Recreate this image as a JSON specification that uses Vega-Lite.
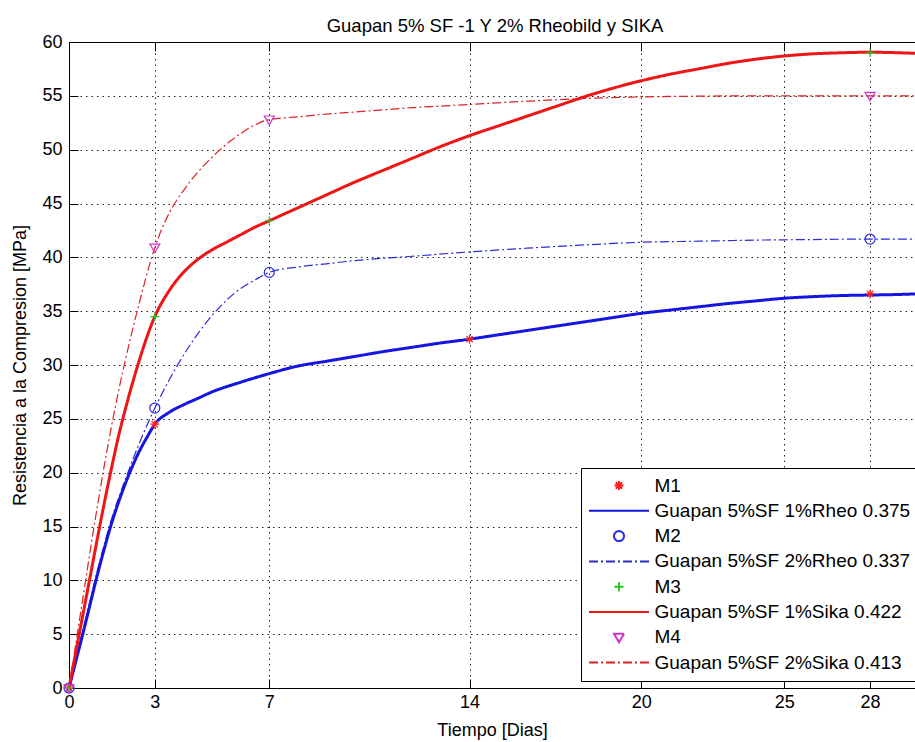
{
  "$schema": "https://vega.github.io/schema/vega-lite/v6.json",
  "width": 846,
  "height": 646,
  "autosize": {"type": "none"},
  "padding": {"left": 69, "top": 42, "right": 0, "bottom": 54},
  "background": "white",
  "title": {"text": "Guapan 5% SF -1 Y 2% Rheobild y SIKA", "fontSize": 18.5, "fontWeight": "normal", "color": "#000", "font": "Liberation Sans", "offset": -2, "dx": 3},
  "config": {
    "font": "Liberation Sans",
    "view": {"stroke": null},
    "axis": {"domainColor": "#000", "tickColor": "#000", "labelColor": "#000", "titleColor": "#000", "labelFontSize": 18, "titleFontSize": 18, "titleFontWeight": "normal", "tickSize": -9, "grid": false, "labelFont": "Liberation Sans", "titleFont": "Liberation Sans", "gridColor": "#222", "gridDash": [1.5, 4], "gridOpacity": 1}
  },
  "datasets": {
    "solid": [
      {"s": "Guapan 5%SF 1%Rheo 0.375", "d": 0, "v": 0},
      {"s": "Guapan 5%SF 1%Rheo 0.375", "d": 0.25, "v": 2.6},
      {"s": "Guapan 5%SF 1%Rheo 0.375", "d": 0.5, "v": 5.2},
      {"s": "Guapan 5%SF 1%Rheo 0.375", "d": 0.75, "v": 7.9},
      {"s": "Guapan 5%SF 1%Rheo 0.375", "d": 1, "v": 10.6},
      {"s": "Guapan 5%SF 1%Rheo 0.375", "d": 1.25, "v": 13.1},
      {"s": "Guapan 5%SF 1%Rheo 0.375", "d": 1.5, "v": 15.4},
      {"s": "Guapan 5%SF 1%Rheo 0.375", "d": 1.75, "v": 17.4},
      {"s": "Guapan 5%SF 1%Rheo 0.375", "d": 2, "v": 19.2},
      {"s": "Guapan 5%SF 1%Rheo 0.375", "d": 2.25, "v": 20.8},
      {"s": "Guapan 5%SF 1%Rheo 0.375", "d": 2.5, "v": 22.2},
      {"s": "Guapan 5%SF 1%Rheo 0.375", "d": 2.75, "v": 23.4},
      {"s": "Guapan 5%SF 1%Rheo 0.375", "d": 3, "v": 24.5},
      {"s": "Guapan 5%SF 1%Rheo 0.375", "d": 3.5, "v": 25.6},
      {"s": "Guapan 5%SF 1%Rheo 0.375", "d": 4, "v": 26.3},
      {"s": "Guapan 5%SF 1%Rheo 0.375", "d": 4.5, "v": 26.9},
      {"s": "Guapan 5%SF 1%Rheo 0.375", "d": 5, "v": 27.5},
      {"s": "Guapan 5%SF 1%Rheo 0.375", "d": 6, "v": 28.4},
      {"s": "Guapan 5%SF 1%Rheo 0.375", "d": 7, "v": 29.2},
      {"s": "Guapan 5%SF 1%Rheo 0.375", "d": 8, "v": 29.9},
      {"s": "Guapan 5%SF 1%Rheo 0.375", "d": 9, "v": 30.35},
      {"s": "Guapan 5%SF 1%Rheo 0.375", "d": 10, "v": 30.8},
      {"s": "Guapan 5%SF 1%Rheo 0.375", "d": 11, "v": 31.25},
      {"s": "Guapan 5%SF 1%Rheo 0.375", "d": 12, "v": 31.65},
      {"s": "Guapan 5%SF 1%Rheo 0.375", "d": 13, "v": 32.05},
      {"s": "Guapan 5%SF 1%Rheo 0.375", "d": 14, "v": 32.4},
      {"s": "Guapan 5%SF 1%Rheo 0.375", "d": 15, "v": 32.8},
      {"s": "Guapan 5%SF 1%Rheo 0.375", "d": 16, "v": 33.2},
      {"s": "Guapan 5%SF 1%Rheo 0.375", "d": 17, "v": 33.6},
      {"s": "Guapan 5%SF 1%Rheo 0.375", "d": 18, "v": 34.0},
      {"s": "Guapan 5%SF 1%Rheo 0.375", "d": 19, "v": 34.4},
      {"s": "Guapan 5%SF 1%Rheo 0.375", "d": 20, "v": 34.8},
      {"s": "Guapan 5%SF 1%Rheo 0.375", "d": 21, "v": 35.1},
      {"s": "Guapan 5%SF 1%Rheo 0.375", "d": 22, "v": 35.4},
      {"s": "Guapan 5%SF 1%Rheo 0.375", "d": 23, "v": 35.7},
      {"s": "Guapan 5%SF 1%Rheo 0.375", "d": 24, "v": 35.95},
      {"s": "Guapan 5%SF 1%Rheo 0.375", "d": 25, "v": 36.2},
      {"s": "Guapan 5%SF 1%Rheo 0.375", "d": 26, "v": 36.35},
      {"s": "Guapan 5%SF 1%Rheo 0.375", "d": 27, "v": 36.45},
      {"s": "Guapan 5%SF 1%Rheo 0.375", "d": 28, "v": 36.5},
      {"s": "Guapan 5%SF 1%Rheo 0.375", "d": 29, "v": 36.55},
      {"s": "Guapan 5%SF 1%Rheo 0.375", "d": 29.57, "v": 36.6},
      {"s": "Guapan 5%SF 1%Sika 0.422", "d": 0, "v": 0},
      {"s": "Guapan 5%SF 1%Sika 0.422", "d": 0.25, "v": 3.5},
      {"s": "Guapan 5%SF 1%Sika 0.422", "d": 0.5, "v": 7.0},
      {"s": "Guapan 5%SF 1%Sika 0.422", "d": 0.75, "v": 10.5},
      {"s": "Guapan 5%SF 1%Sika 0.422", "d": 1, "v": 14.0},
      {"s": "Guapan 5%SF 1%Sika 0.422", "d": 1.25, "v": 17.4},
      {"s": "Guapan 5%SF 1%Sika 0.422", "d": 1.5, "v": 20.6},
      {"s": "Guapan 5%SF 1%Sika 0.422", "d": 1.75, "v": 23.6},
      {"s": "Guapan 5%SF 1%Sika 0.422", "d": 2, "v": 26.2},
      {"s": "Guapan 5%SF 1%Sika 0.422", "d": 2.25, "v": 28.6},
      {"s": "Guapan 5%SF 1%Sika 0.422", "d": 2.5, "v": 30.8},
      {"s": "Guapan 5%SF 1%Sika 0.422", "d": 2.75, "v": 32.8},
      {"s": "Guapan 5%SF 1%Sika 0.422", "d": 3, "v": 34.5},
      {"s": "Guapan 5%SF 1%Sika 0.422", "d": 3.5, "v": 36.9},
      {"s": "Guapan 5%SF 1%Sika 0.422", "d": 4, "v": 38.6},
      {"s": "Guapan 5%SF 1%Sika 0.422", "d": 4.5, "v": 39.8},
      {"s": "Guapan 5%SF 1%Sika 0.422", "d": 5, "v": 40.7},
      {"s": "Guapan 5%SF 1%Sika 0.422", "d": 5.5, "v": 41.4},
      {"s": "Guapan 5%SF 1%Sika 0.422", "d": 6, "v": 42.1},
      {"s": "Guapan 5%SF 1%Sika 0.422", "d": 6.5, "v": 42.8},
      {"s": "Guapan 5%SF 1%Sika 0.422", "d": 7, "v": 43.4},
      {"s": "Guapan 5%SF 1%Sika 0.422", "d": 8, "v": 44.6},
      {"s": "Guapan 5%SF 1%Sika 0.422", "d": 9, "v": 45.8},
      {"s": "Guapan 5%SF 1%Sika 0.422", "d": 10, "v": 47.0},
      {"s": "Guapan 5%SF 1%Sika 0.422", "d": 11, "v": 48.1},
      {"s": "Guapan 5%SF 1%Sika 0.422", "d": 12, "v": 49.2},
      {"s": "Guapan 5%SF 1%Sika 0.422", "d": 13, "v": 50.3},
      {"s": "Guapan 5%SF 1%Sika 0.422", "d": 14, "v": 51.3},
      {"s": "Guapan 5%SF 1%Sika 0.422", "d": 15, "v": 52.2},
      {"s": "Guapan 5%SF 1%Sika 0.422", "d": 16, "v": 53.1},
      {"s": "Guapan 5%SF 1%Sika 0.422", "d": 17, "v": 54.0},
      {"s": "Guapan 5%SF 1%Sika 0.422", "d": 18, "v": 54.9},
      {"s": "Guapan 5%SF 1%Sika 0.422", "d": 19, "v": 55.7},
      {"s": "Guapan 5%SF 1%Sika 0.422", "d": 20, "v": 56.4},
      {"s": "Guapan 5%SF 1%Sika 0.422", "d": 21, "v": 57.0},
      {"s": "Guapan 5%SF 1%Sika 0.422", "d": 22, "v": 57.5},
      {"s": "Guapan 5%SF 1%Sika 0.422", "d": 23, "v": 58.0},
      {"s": "Guapan 5%SF 1%Sika 0.422", "d": 24, "v": 58.4},
      {"s": "Guapan 5%SF 1%Sika 0.422", "d": 25, "v": 58.7},
      {"s": "Guapan 5%SF 1%Sika 0.422", "d": 26, "v": 58.9},
      {"s": "Guapan 5%SF 1%Sika 0.422", "d": 27, "v": 59.0},
      {"s": "Guapan 5%SF 1%Sika 0.422", "d": 28, "v": 59.05},
      {"s": "Guapan 5%SF 1%Sika 0.422", "d": 29, "v": 59.0},
      {"s": "Guapan 5%SF 1%Sika 0.422", "d": 29.57, "v": 58.95}
    ],
    "dash": [
      {"s": "Guapan 5%SF 2%Rheo 0.337", "d": 0, "v": 0},
      {"s": "Guapan 5%SF 2%Rheo 0.337", "d": 0.5, "v": 5.5},
      {"s": "Guapan 5%SF 2%Rheo 0.337", "d": 1, "v": 11.0},
      {"s": "Guapan 5%SF 2%Rheo 0.337", "d": 1.5, "v": 15.8},
      {"s": "Guapan 5%SF 2%Rheo 0.337", "d": 2, "v": 19.6},
      {"s": "Guapan 5%SF 2%Rheo 0.337", "d": 2.5, "v": 23.0},
      {"s": "Guapan 5%SF 2%Rheo 0.337", "d": 3, "v": 26.0},
      {"s": "Guapan 5%SF 2%Rheo 0.337", "d": 3.5, "v": 28.6},
      {"s": "Guapan 5%SF 2%Rheo 0.337", "d": 4, "v": 30.9},
      {"s": "Guapan 5%SF 2%Rheo 0.337", "d": 4.5, "v": 32.9},
      {"s": "Guapan 5%SF 2%Rheo 0.337", "d": 5, "v": 34.6},
      {"s": "Guapan 5%SF 2%Rheo 0.337", "d": 5.5, "v": 36.0},
      {"s": "Guapan 5%SF 2%Rheo 0.337", "d": 6, "v": 37.1},
      {"s": "Guapan 5%SF 2%Rheo 0.337", "d": 6.5, "v": 37.9},
      {"s": "Guapan 5%SF 2%Rheo 0.337", "d": 7, "v": 38.6},
      {"s": "Guapan 5%SF 2%Rheo 0.337", "d": 8, "v": 39.1},
      {"s": "Guapan 5%SF 2%Rheo 0.337", "d": 9, "v": 39.4},
      {"s": "Guapan 5%SF 2%Rheo 0.337", "d": 10, "v": 39.7},
      {"s": "Guapan 5%SF 2%Rheo 0.337", "d": 12, "v": 40.1},
      {"s": "Guapan 5%SF 2%Rheo 0.337", "d": 14, "v": 40.5},
      {"s": "Guapan 5%SF 2%Rheo 0.337", "d": 16, "v": 40.85},
      {"s": "Guapan 5%SF 2%Rheo 0.337", "d": 18, "v": 41.15},
      {"s": "Guapan 5%SF 2%Rheo 0.337", "d": 20, "v": 41.4},
      {"s": "Guapan 5%SF 2%Rheo 0.337", "d": 22, "v": 41.5},
      {"s": "Guapan 5%SF 2%Rheo 0.337", "d": 24, "v": 41.6},
      {"s": "Guapan 5%SF 2%Rheo 0.337", "d": 26, "v": 41.65},
      {"s": "Guapan 5%SF 2%Rheo 0.337", "d": 28, "v": 41.7},
      {"s": "Guapan 5%SF 2%Rheo 0.337", "d": 29.57, "v": 41.7},
      {"s": "Guapan 5%SF 2%Sika 0.413", "d": 0, "v": 0},
      {"s": "Guapan 5%SF 2%Sika 0.413", "d": 0.25, "v": 4.3},
      {"s": "Guapan 5%SF 2%Sika 0.413", "d": 0.5, "v": 8.6},
      {"s": "Guapan 5%SF 2%Sika 0.413", "d": 0.75, "v": 12.9},
      {"s": "Guapan 5%SF 2%Sika 0.413", "d": 1, "v": 17.0},
      {"s": "Guapan 5%SF 2%Sika 0.413", "d": 1.25, "v": 20.9},
      {"s": "Guapan 5%SF 2%Sika 0.413", "d": 1.5, "v": 24.5},
      {"s": "Guapan 5%SF 2%Sika 0.413", "d": 1.75, "v": 27.8},
      {"s": "Guapan 5%SF 2%Sika 0.413", "d": 2, "v": 30.8},
      {"s": "Guapan 5%SF 2%Sika 0.413", "d": 2.25, "v": 33.6},
      {"s": "Guapan 5%SF 2%Sika 0.413", "d": 2.5, "v": 36.2},
      {"s": "Guapan 5%SF 2%Sika 0.413", "d": 2.75, "v": 38.7},
      {"s": "Guapan 5%SF 2%Sika 0.413", "d": 3, "v": 40.9},
      {"s": "Guapan 5%SF 2%Sika 0.413", "d": 3.5, "v": 44.1},
      {"s": "Guapan 5%SF 2%Sika 0.413", "d": 4, "v": 46.2},
      {"s": "Guapan 5%SF 2%Sika 0.413", "d": 4.5, "v": 47.9},
      {"s": "Guapan 5%SF 2%Sika 0.413", "d": 5, "v": 49.3},
      {"s": "Guapan 5%SF 2%Sika 0.413", "d": 5.5, "v": 50.5},
      {"s": "Guapan 5%SF 2%Sika 0.413", "d": 6, "v": 51.5},
      {"s": "Guapan 5%SF 2%Sika 0.413", "d": 6.5, "v": 52.3},
      {"s": "Guapan 5%SF 2%Sika 0.413", "d": 7, "v": 52.8},
      {"s": "Guapan 5%SF 2%Sika 0.413", "d": 8, "v": 53.05},
      {"s": "Guapan 5%SF 2%Sika 0.413", "d": 9, "v": 53.3},
      {"s": "Guapan 5%SF 2%Sika 0.413", "d": 10, "v": 53.5},
      {"s": "Guapan 5%SF 2%Sika 0.413", "d": 11, "v": 53.7},
      {"s": "Guapan 5%SF 2%Sika 0.413", "d": 12, "v": 53.9},
      {"s": "Guapan 5%SF 2%Sika 0.413", "d": 13, "v": 54.05},
      {"s": "Guapan 5%SF 2%Sika 0.413", "d": 14, "v": 54.2},
      {"s": "Guapan 5%SF 2%Sika 0.413", "d": 16, "v": 54.5},
      {"s": "Guapan 5%SF 2%Sika 0.413", "d": 18, "v": 54.75},
      {"s": "Guapan 5%SF 2%Sika 0.413", "d": 20, "v": 54.9},
      {"s": "Guapan 5%SF 2%Sika 0.413", "d": 22, "v": 54.97},
      {"s": "Guapan 5%SF 2%Sika 0.413", "d": 24, "v": 55.0},
      {"s": "Guapan 5%SF 2%Sika 0.413", "d": 28, "v": 55.0},
      {"s": "Guapan 5%SF 2%Sika 0.413", "d": 29.57, "v": 55.0}
    ],
    "pts": [
      {"s": "M1", "d": 0, "v": 0},
      {"s": "M1", "d": 3, "v": 24.5},
      {"s": "M1", "d": 14, "v": 32.4},
      {"s": "M1", "d": 28, "v": 36.6},
      {"s": "M2", "d": 0, "v": 0},
      {"s": "M2", "d": 3, "v": 26.0},
      {"s": "M2", "d": 7, "v": 38.6},
      {"s": "M2", "d": 28, "v": 41.7},
      {"s": "M3", "d": 0, "v": 0},
      {"s": "M3", "d": 3, "v": 34.5},
      {"s": "M3", "d": 7, "v": 43.4},
      {"s": "M3", "d": 28, "v": 59.0},
      {"s": "M4", "d": 0, "v": 0},
      {"s": "M4", "d": 3, "v": 40.9},
      {"s": "M4", "d": 7, "v": 52.8},
      {"s": "M4", "d": 28, "v": 55.0}
    ]
  },
  "layer": [
    {
      "data": {"name": "dash"},
      "mark": {"type": "line", "interpolate": "monotone", "strokeWidth": 1.2},
      "encoding": {
        "x": {"field": "d", "type": "quantitative", "scale": {"domain": [0, 29.57], "nice": false, "zero": false},
          "axis": {"orient": "bottom", "values": [0, 3, 7, 14, 20, 25, 28], "grid": true, "title": "Tiempo [Dias]", "labelPadding": 14, "titlePadding": 10, "labelFlush": false}},
        "y": {"field": "v", "type": "quantitative", "scale": {"domain": [0, 60], "nice": false},
          "axis": {"orient": "left", "values": [0, 5, 10, 15, 20, 25, 30, 35, 40, 45, 50, 55, 60], "grid": true, "title": "Resistencia a la Compresion [MPa]", "labelPadding": 16, "titlePadding": 12}},
        "color": {"field": "s", "type": "nominal",
          "scale": {"domain": ["M1", "Guapan 5%SF 1%Rheo 0.375", "M2", "Guapan 5%SF 2%Rheo 0.337", "M3", "Guapan 5%SF 1%Sika 0.422", "M4", "Guapan 5%SF 2%Sika 0.413"],
            "range": ["#ff2020", "#1515e0", "#2a2ae0", "#2b2bd6", "#22cc22", "#ee1515", "#cc33cc", "#dd2222"]},
          "legend": {"orient": "none", "legendX": 512, "legendY": 426, "title": null, "symbolSize": 100, "labelFontSize": 19, "labelColor": "#000", "labelFont": "Liberation Sans", "padding": 8, "rowPadding": 5.3, "symbolOffset": 20.5, "labelOffset": 26, "strokeColor": "#000", "fillColor": "#fff", "symbolStrokeWidth": 2, "labelLimit": 400}},
        "strokeDash": {"field": "s", "type": "nominal",
          "scale": {"domain": ["M1", "Guapan 5%SF 1%Rheo 0.375", "M2", "Guapan 5%SF 2%Rheo 0.337", "M3", "Guapan 5%SF 1%Sika 0.422", "M4", "Guapan 5%SF 2%Sika 0.413"],
            "range": [[1, 0], [1, 0], [1, 0], [9, 3, 2, 3], [1, 0], [1, 0], [1, 0], [9, 3, 2, 3]]}}
      }
    },
    {
      "data": {"name": "solid"},
      "mark": {"type": "line", "interpolate": "monotone", "strokeWidth": 3},
      "encoding": {
        "x": {"field": "d", "type": "quantitative", "axis": null},
        "y": {"field": "v", "type": "quantitative", "axis": null},
        "color": {"field": "s", "type": "nominal"},
        "strokeDash": {"field": "s", "type": "nominal"}
      }
    },
    {
      "data": {"name": "pts"},
      "mark": {"type": "point", "filled": false, "strokeWidth": 1.2, "opacity": 1, "size": 100},
      "encoding": {
        "x": {"field": "d", "type": "quantitative",
          "axis": {"orient": "top", "values": [0, 3, 7, 14, 20, 25, 28], "labels": false, "title": null, "grid": false}},
        "y": {"field": "v", "type": "quantitative", "axis": null},
        "color": {"field": "s", "type": "nominal"},
        "shape": {"field": "s", "type": "nominal",
          "scale": {"domain": ["M1", "Guapan 5%SF 1%Rheo 0.375", "M2", "Guapan 5%SF 2%Rheo 0.337", "M3", "Guapan 5%SF 1%Sika 0.422", "M4", "Guapan 5%SF 2%Sika 0.413"],
            "range": ["M-0.9,0L0.9,0M0,-0.9L0,0.9M-0.64,-0.64L0.64,0.64M-0.64,0.64L0.64,-0.64", "M-6,0L6,0", "M1,0A1,1,0,1,1,-1,0A1,1,0,1,1,1,0Z", "M-6,0L6,0", "M-0.9,0L0.9,0M0,-0.9L0,0.9", "M-6,0L6,0", "M-1,-0.7L1,-0.7L0,1Z", "M-6,0L6,0"]}}
      }
    }
  ],
  "resolve": {"axis": {"x": "independent", "y": "independent"}}
}
